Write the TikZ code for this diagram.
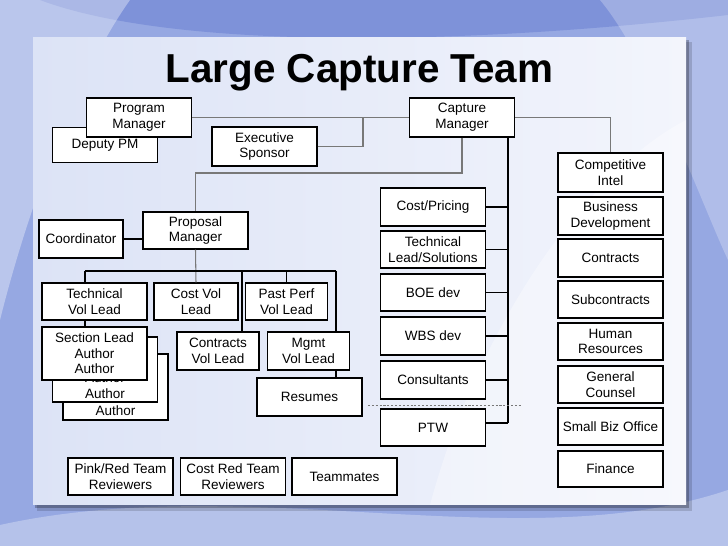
\documentclass[tikz,border=0pt]{standalone}
\usepackage{fontspec}
\setmainfont{Liberation Sans}
\definecolor{slideblue}{RGB}{150,168,226}
\definecolor{swooshdark}{RGB}{110,132,212}
\definecolor{panelleft}{RGB}{220,227,246}
\definecolor{panelright}{RGB}{243,245,252}
\definecolor{linkgray}{RGB}{120,120,120}
\begin{document}
\begin{tikzpicture}[
        x=0.02cm, y=-0.02cm,
        every node/.style={
            align=center,
            font=\fontsize{7.7}{8.9}\selectfont
        },
        box/.style={
            draw,
            fill=white,
            line width=0.6pt,
            inner sep=1pt,
            minimum width=2.1cm,
            minimum height=0.76cm
        },
        narrow/.style={box, minimum width=1.64cm},
        link/.style={draw, line width=0.6pt},
        softlink/.style={link, linkgray}
    ]
    \useasboundingbox (0,0) rectangle (728,546);
    % slide background
    \fill[slideblue] (0,0) rectangle (728,546);
    \fill[swooshdark, opacity=0.6] (40,0) .. controls (160,45) and (420,50) .. (728,15) -- (728,0) -- cycle;
    \fill[white, opacity=0.35] (0,0) -- (130,0) .. controls (80,70) and (30,200) .. (0,320) -- cycle;
    \fill[white, opacity=0.3] (0,525) .. controls (250,470) and (520,560) .. (728,490) -- (728,546) -- (0,546) -- cycle;
    \fill[white, opacity=0.25] (600,0) .. controls (650,60) and (700,200) .. (728,260) -- (728,0) -- cycle;
    % content panel with shadow
    \fill[black, opacity=0.15] (37,42) rectangle (692,511);
    \fill[black, opacity=0.25] (35,40) rectangle (689,508);
    \shade[left color=panelleft, right color=panelright] (33,38) rectangle (686,505);
    \fill[white, opacity=0.35] (430,505) .. controls (480,320) and (590,170) .. (686,120) -- (686,505) -- cycle;

    % title
    \node[font=\fontsize{23}{27}\selectfont\bfseries, anchor=base] (title) at (359.5,83) {Large Capture Team};

    % top level
    \node[box, minimum height=0.7cm] (depPM) at (105,145) {Deputy PM};
    \node[box, minimum height=0.78cm] (progMgr) at (139,117.5) {Program\\Manager};
    \node[box, minimum height=0.78cm] (execSp) at (264.5,146.5) {Executive\\Sponsor};
    \node[box, minimum height=0.78cm] (capMgr) at (462,117.5) {Capture\\Manager};

    % support functions (right column)
    \node[box, minimum height=0.78cm] (compIntel) at (610.5,172.5) {Competitive\\Intel};
    \node[box] (bizDev) at (610.5,216) {Business\\Development};
    \node[box] (contracts) at (610.5,258) {Contracts};
    \node[box, minimum height=0.74cm] (subcon) at (610.5,299.5) {Subcontracts};
    \node[box, minimum height=0.74cm] (humRes) at (610.5,341.5) {Human\\Resources};
    \node[box, minimum height=0.74cm] (genCounsel) at (610.5,384.5) {General\\Counsel};
    \node[box, minimum height=0.74cm] (smallBiz) at (610.5,426.5) {Small Biz Office};
    \node[box, minimum height=0.72cm] (finance) at (610.5,469) {Finance};

    % pricing and solution team
    \node[box] (costPrice) at (433,207) {Cost/Pricing};
    \node[box, minimum height=0.74cm] (techSol) at (433,249.5) {Technical\\Lead/Solutions};
    \node[box, minimum height=0.74cm] (boeDev) at (433,292.5) {BOE dev};
    \node[box] (wbsDev) at (433,336) {WBS dev};
    \node[box] (consult) at (433,380) {Consultants};
    \node[box, minimum height=0.74cm] (ptw) at (433,427.5) {PTW};

    % proposal team
    \node[box, minimum height=0.74cm] (propMgr) at (195.5,230.5) {Proposal\\Manager};
    \node[narrow, minimum width=1.68cm] (coord) at (81,239) {Coordinator};
    \node[box, minimum height=0.74cm] (techVol) at (94.5,301.5) {Technical\\Vol Lead};
    \node[narrow, minimum width=1.68cm, minimum height=0.74cm] (costVol) at (196,301.5) {Cost Vol\\Lead};
    \node[narrow, minimum height=0.74cm] (pastPerf) at (286.5,301.5) {Past Perf\\Vol Lead};
    \node[narrow] (contVol) at (218,351) {Contracts\\Vol Lead};
    \node[narrow] (mgmtVol) at (308.5,351) {Mgmt\\Vol Lead};
    \node[box] (resumes) at (309.5,397) {Resumes};

    % section lead / author stack
    \node[box, minimum height=1.32cm] (author2) at (115.5,387) {\strut\\\strut\\\strut\\Author};
    \node[box, minimum height=1.3cm] (author1) at (105,369.5) {\strut\\\strut\\Author\\Author};
    \node[box, minimum height=1.06cm] (secLead) at (94.5,353.5) {Section Lead\\Author\\Author};

    % reviewers and teammates
    \node[box, minimum height=0.74cm] (pinkRed) at (120.5,476.5) {Pink/Red Team\\Reviewers};
    \node[box, minimum height=0.74cm] (costRed) at (233,476.5) {Cost Red Team\\Reviewers};
    \node[box, minimum height=0.74cm] (mates) at (344.5,476.5) {Teammates};

    % connectors
    \coordinate (execJoin) at (363,117.5);
    \coordinate (propJoin) at (195.5,173);
    \coordinate (busL) at (85,271);
    \coordinate (busC) at (242,271);
    \coordinate (busR) at (336,271);
    \coordinate (spineTop) at (508,137.5);
    \coordinate (spineBot) at (508,423);
    \coordinate (dashL) at (368,405);
    \coordinate (dashR) at (522,405);

    \path[softlink] (progMgr.east) -- (capMgr.west);
    \path[softlink] (execSp.east) -| (execJoin);
    \path[softlink] (capMgr.east) -| (compIntel.north);
    \path[softlink] (capMgr.south) |- (propJoin) -- (propMgr.north);
    \path[softlink] (propMgr.south) -- (costVol.north);
    \path[link] (coord.east) -- (coord.east -| propMgr.west);
    \path[link] (busL) -- (busR);
    \path[link] (busL) -- (busL |- techVol.north);
    \path[link] (pastPerf.north) -- (pastPerf.north |- busL);
    \path[link] (busC) -- (busC |- contVol.north);
    \path[link] (busR) -- (busR |- mgmtVol.north);
    \path[link] (busR |- mgmtVol.south) -- (busR |- resumes.north);
    \path[link] (busL |- techVol.south) -- (busL |- secLead.north);
    \path[link] (spineTop) -- (spineBot);
    \foreach \n in {costPrice, techSol, boeDev, wbsDev, consult}
        \path[link] (\n.east) -- (\n.east -| spineTop);
    \path[link] (spineBot -| ptw.east) -- (spineBot);
    \draw[linkgray, dash pattern=on 1.2pt off 1pt, line width=0.4pt] (dashL) -- (dashR);
\end{tikzpicture}
\end{document}
